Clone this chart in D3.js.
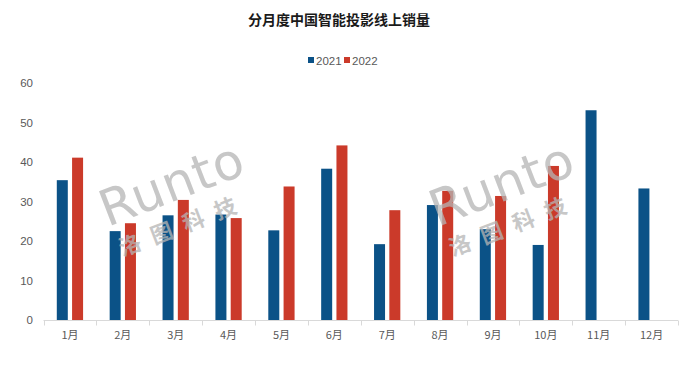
<!DOCTYPE html>
<html><head><meta charset="utf-8">
<script src="https://cdn.jsdelivr.net/npm/d3@7/dist/d3.min.js"></script>
<style>body{margin:0;background:#fff}svg{display:block}</style>
</head><body>
<script>
const months = ["1月","2月","3月","4月","5月","6月","7月","8月","9月","10月","11月","12月"];
const seriesNames = ["2021","2022"];
const values2021 = [35.4,22.5,26.5,26.7,22.7,38.3,19.2,29.1,23.0,19.0,53.1,33.3];
const values2022 = [41.1,24.5,30.4,25.8,33.8,44.2,27.8,32.7,31.4,39.0,null,null];
const yTicks = [0,10,20,30,40,50,60];
const colors = ["#0b5287","#cb3a2a"];
const title = "分月度中国智能投影线上销量";

const W=679,H=365;
const svg=d3.select("body").append("svg").attr("width",W).attr("height",H);
const font="'Noto Sans CJK SC','Noto Sans',sans-serif";
const numFont="'Liberation Sans',Arial,sans-serif";

const x=d3.scaleBand().domain(months).range([43.5,678]).paddingInner(0).paddingOuter(0);
const xi=d3.scaleBand().domain(seriesNames).range([0,x.bandwidth()]).paddingInner(0.28).paddingOuter(0.87);
const y=d3.scaleLinear().domain([0,60]).range([320,83]);

svg.append("text").attr("x",339).attr("y",25).attr("text-anchor","middle")
  .attr("font-family",font).attr("font-weight","bold").attr("font-size",14).attr("fill","#1a1a1a").text(title);

// legend
const leg=svg.append("g").attr("font-family",numFont).attr("font-size",11.5).attr("fill","#595959");
[[308,"2021"],[344,"2022"]].forEach((d,i)=>{
  leg.append("rect").attr("x",d[0]).attr("y",57).attr("width",6).attr("height",6).attr("fill",colors[i]);
  leg.append("text").attr("x",d[0]+8).attr("y",64.5).text(d[1]);
});

// y axis labels
const ya=svg.append("g").attr("transform","translate(33,0)")
  .call(d3.axisLeft(y).tickValues(yTicks).tickSize(0).tickPadding(0));
ya.select(".domain").remove();
ya.selectAll("text").attr("font-family",numFont).attr("font-size",11.5).attr("fill","#595959");

// x axis
const xa=svg.append("g").attr("transform","translate(0,320.5)")
  .call(d3.axisBottom(x).tickSize(0).tickPadding(11));
xa.select(".domain").attr("stroke","#d9d9d9").attr("d","M43.5,0H678");
xa.selectAll("text").attr("font-family",font).attr("font-size",11).attr("fill","#595959");
const bounds=months.map(m=>x(m)).concat([x(months[11])+x.bandwidth()]);
xa.selectAll("line.tk").data(bounds).enter().append("line").attr("class","tk")
  .attr("x1",d=>Math.round(d)+0.5).attr("x2",d=>Math.round(d)+0.5).attr("y1",0).attr("y2",5).attr("stroke","#d9d9d9");

// bars
const data=[values2021,values2022];
data.forEach((vals,si)=>{
  svg.append("g").selectAll("rect").data(months.map((m,i)=>({m,v:vals[i]})).filter(d=>d.v!=null))
   .enter().append("rect")
   .attr("x",d=>x(d.m)+xi(seriesNames[si]))
   .attr("width",xi.bandwidth())
   .attr("y",d=>y(d.v)).attr("height",d=>y(0)-y(d.v))
   .attr("fill",colors[si]);
});

// watermarks
[[178,200],[508,200]].forEach(p=>{
  const g=svg.append("g").attr("transform",`translate(${p[0]},${p[1]}) rotate(-21)`).attr("opacity",0.75);
  g.append("text").attr("x",0).attr("y",0).attr("text-anchor","middle")
   .attr("font-family","'DejaVu Sans',sans-serif").attr("font-size",50).attr("fill","#b5b5b5")
   .attr("letter-spacing",1).text("Runto");
  g.append("text").attr("x",-4).attr("y",33).attr("text-anchor","middle")
   .attr("font-family",font).attr("font-weight","bold").attr("font-size",22).attr("fill","#b5b5b5")
   .attr("letter-spacing",12).text("洛图科技");
});
</script>
</body></html>
